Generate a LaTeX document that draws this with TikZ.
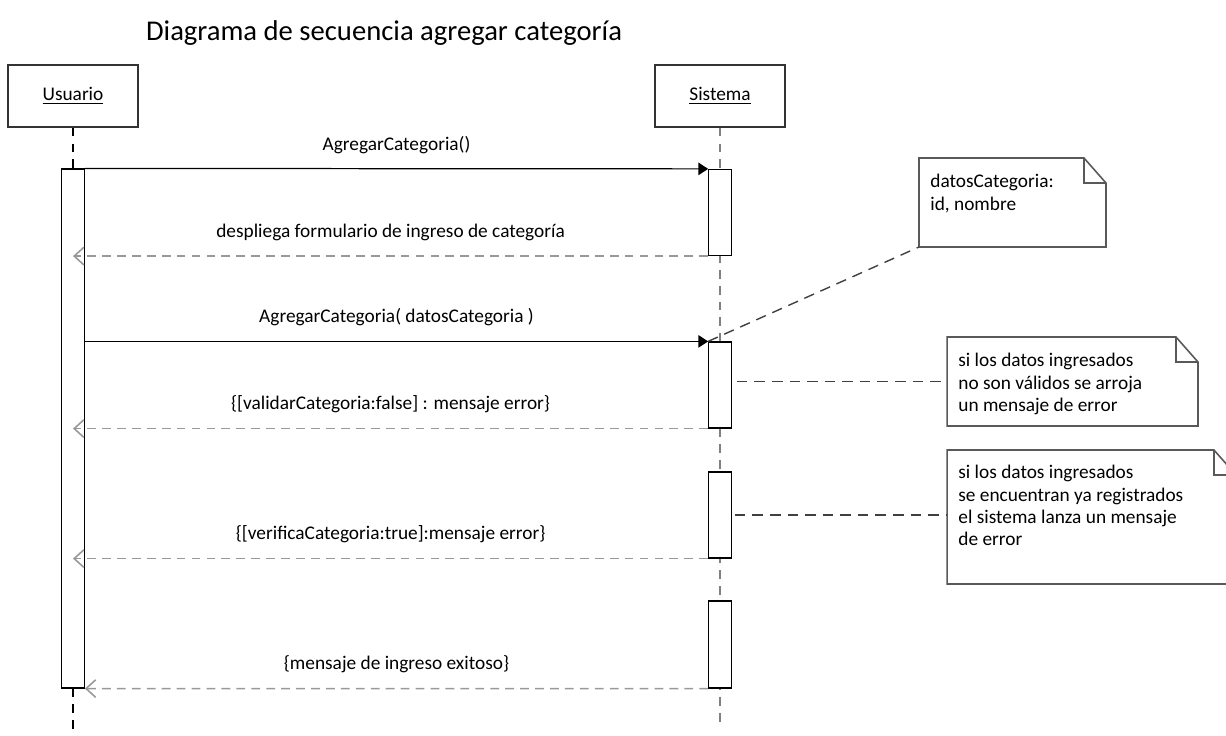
\documentclass[tikz,border=0pt]{standalone}
\usepackage{fontspec}
\setmainfont{Carlito}
\usetikzlibrary{arrows.meta, calc}

% hoja doblada de la nota
\newcommand{\doblez}[1]{%
  \draw[notaborde] (#1.north west) -- ($(#1.north east)+(-22,0)$) -- ($(#1.north east)+(0,25)$)
    -- (#1.south east) -- (#1.south west) -- cycle;
  \draw[notaborde] ($(#1.north east)+(-22,0)$) -- ($(#1.north east)+(-22,25)$) -- ($(#1.north east)+(0,25)$);
}

\tikzset{
  objeto/.style={draw=black!80, line width=0.8pt, minimum width=2.6cm, minimum height=1.24cm},
  activ/.style={draw, fill=white, line width=0.7pt, minimum width=0.45cm, inner sep=0pt},
  vida/.style={dash pattern=on 5pt off 4pt, line width=0.7pt},
  msg/.style={line width=0.7pt, -{Triangle[length=5.5pt, width=7pt]}},
  ret/.style={gray!80, line width=0.8pt, dash pattern=on 5pt off 3.5pt, -{Straight Barb[length=5.5pt, width=10pt, line width=0.9pt]}},
  lbl/.style={midway, above=5pt, text=black},
  nota/.style={draw=none, inner sep=0pt, outer sep=0pt},
  notaborde/.style={draw=black!65, line width=0.9pt, line join=miter},
  notatxt/.style={anchor=north west, inner sep=0pt, align=left},
  enlace/.style={black!75, line width=0.8pt, dash pattern=on 6pt off 4pt}
}

\begin{document}
\begin{tikzpicture}[x=0.02cm, y=-0.02cm, font=\fontsize{11}{12.7}\selectfont]
  \useasboundingbox (0,0) rectangle (1226,736);

  % titulo
  \node[font=\fontsize{16.3}{19}\selectfont] (titulo) at (384, 33) {Diagrama de secuencia agregar categoría};

  % objetos
  \node[objeto] (usr) at (73, 96) {\underline{Usuario}};
  \node[objeto] (sis) at (720, 96) {\underline{Sistema}};

  % lineas de vida
  \coordinate (ufin) at (73, 736);
  \coordinate (sfin) at (720, 726);
  \draw[vida, gray] (sis.south) -- (sfin);

  % activaciones
  \node[activ, minimum height=10.38cm] (ua) at (73, 428.5) {};
  \node[activ, minimum height=1.72cm] (s1) at (720, 212.5) {};
  \node[activ, minimum height=1.72cm] (s2) at (720, 385) {};
  \node[activ, minimum height=1.72cm] (s3) at (720, 515) {};
  \node[activ, minimum height=1.74cm] (s4) at (720, 644.5) {};
  \draw[vida] (usr.south) -- (ua.north);
  \draw[vida] (ua.south) -- (ufin);

  % mensajes
  \draw[msg] (ua.north east) -- (s1.north west) node[lbl] {AgregarCategoria()};
  \draw[ret] (s1.south west) -- (ua.center |- s1.south) node[lbl] {despliega formulario de ingreso de categoría};
  \draw[msg] (ua.east |- s2.north) -- (s2.north west) node[lbl] {AgregarCategoria( datosCategoria )};
  \draw[ret] (s2.south west) -- (ua.center |- s2.south) node[lbl] {\{[validarCategoria:false] : mensaje error\}};
  \draw[ret] (s3.south west) -- (ua.center |- s3.south) node[lbl] {\{[verificaCategoria:true]:mensaje error\}};
  \draw[ret] (s4.south west) -- (ua.south east) node[lbl] {\{mensaje de ingreso exitoso\}};

  % notas
  \node[nota, minimum width=3.74cm, minimum height=1.78cm] (n1) at (1012.5, 202.5) {};
  \doblez{n1}
  \node[notatxt] (n1t) at ($(n1.north west)+(11,16)$) {datosCategoria:\\id, nombre};

  \node[nota, minimum width=5.02cm, minimum height=1.78cm] (n2) at (1072.5, 381.5) {};
  \doblez{n2}
  \node[notatxt] (n2t) at ($(n2.north west)+(11,16)$) {si los datos ingresados\\no son válidos se arroja\\un mensaje de error};

  \node[nota, minimum width=5.78cm, minimum height=2.68cm] (n3) at (1091.5, 517) {};
  \doblez{n3}
  \node[notatxt] (n3t) at ($(n3.north west)+(11,15)$) {si los datos ingresados\\se encuentran ya registrados\\el sistema lanza un mensaje\\de error};

  % enlaces de las notas
  \draw[enlace] (s2.north west) -- (n1.south west);
  \draw[enlace] ($(s2.east |- n2.west)+(5,0)$) -- (n2.west);
  \draw[enlace] ($(s3.east)+(3,0)$) -- (s3.east -| n3.west);
\end{tikzpicture}
\end{document}
